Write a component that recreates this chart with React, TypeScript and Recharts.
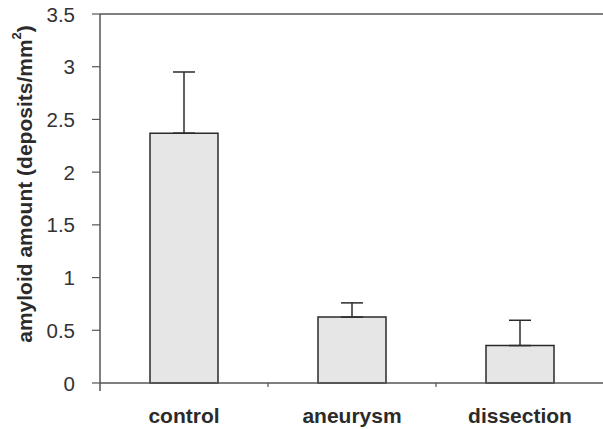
import { Bar, BarChart, ErrorBar, ReferenceLine, XAxis, YAxis } from "recharts";

const GROUPS = ["control", "aneurysm", "dissection"];
const MEANS = [2.37, 0.625, 0.355];
const UPPER_ERR = [0.58, 0.135, 0.24];
const Y_TICKS = [0, 0.5, 1, 1.5, 2, 2.5, 3, 3.5];

const FONT = "'Liberation Sans', Arial, Helvetica, sans-serif";
const AXIS = "#555";
const INK = "#2b2b2b";

const W = 603;
const Y_AXIS_W = 100;
const HALF_BAND = (W + 1 - Y_AXIS_W) / GROUPS.length / 2;
const X_TICK_OFFSET = 6 + 17; // tickSize + tickMargin
const Y_TICK_OFFSET = 8 + 17;

const data = GROUPS.map((name, i) => ({
  name,
  value: MEANS[i],
  err: [0, UPPER_ERR[i]],
}));

function YLabel({ viewBox }: any) {
  const cx = viewBox.x + 24;
  const cy = viewBox.y + 170;
  return (
    <text
      x={cx}
      y={cy}
      transform={`rotate(-90, ${cx}, ${cy})`}
      textAnchor="middle"
      dominantBaseline="central"
      fontFamily={FONT}
      fontSize={21}
      fontWeight="bold"
      fill={INK}
    >
      amyloid amount (deposits/mm
      <tspan fontSize={13} dy={-8}>2</tspan>
      <tspan dy={8}>)</tspan>
    </text>
  );
}

function YTick({ x, y, payload, index }: any) {
  const axisX = x + Y_TICK_OFFSET;
  return (
    <g>
      {/* axis line runs a little past zero in the original */}
      {index === 0 ? (
        <line x1={axisX} x2={axisX} y1={y} y2={y + 8} stroke={AXIS} strokeWidth={1.5} />
      ) : null}
      <text x={x} y={y} dy={7.5} textAnchor="end" fontFamily={FONT} fontSize={20.5} fill="#333">
        {payload.value}
      </text>
    </g>
  );
}

// category label, plus the small mark at the right edge of its band
function XTick({ x, y, payload, index }: any) {
  const axisY = y - X_TICK_OFFSET;
  return (
    <g>
      {index < GROUPS.length - 1 ? (
        <line x1={x + HALF_BAND} x2={x + HALF_BAND} y1={axisY} y2={axisY + 4} stroke={AXIS} strokeWidth={1.2} />
      ) : null}
      <text x={x} y={y} dy={17} textAnchor="middle" fontFamily={FONT} fontSize={21} fontWeight="bold" fill={INK}>
        {payload.value}
      </text>
    </g>
  );
}

export default function App() {
  return (
    <div style={{ position: "absolute", left: 0, top: 0, background: "#fff" }}>
      <BarChart
        width={W}
        height={429}
        data={data}
        margin={{ top: 14, right: -1, bottom: 0, left: 0 }}
      >
        <XAxis
          dataKey="name"
          height={46}
          axisLine={{ stroke: AXIS, strokeWidth: 1.5 }}
          tickLine={false}
          tickSize={6}
          tickMargin={17}
          tick={<XTick />}
        />
        <YAxis
          width={Y_AXIS_W}
          domain={[0, 3.5]}
          ticks={Y_TICKS}
          interval={0}
          axisLine={{ stroke: AXIS, strokeWidth: 1.5 }}
          tickLine={{ stroke: AXIS, strokeWidth: 1.2 }}
          tickSize={8}
          tickMargin={17}
          tick={<YTick />}
          label={{ content: YLabel }}
        />
        <ReferenceLine y={3.5} stroke={AXIS} strokeWidth={1.5} />
        <Bar
          dataKey="value"
          barSize={68}
          fill="#e6e6e6"
          stroke={INK}
          strokeWidth={1.5}
          isAnimationActive={false}
        >
          <ErrorBar
            dataKey="err"
            direction="y"
            width={11}
            stroke={INK}
            strokeWidth={1.5}
            isAnimationActive={false}
          />
        </Bar>
      </BarChart>
    </div>
  );
}
